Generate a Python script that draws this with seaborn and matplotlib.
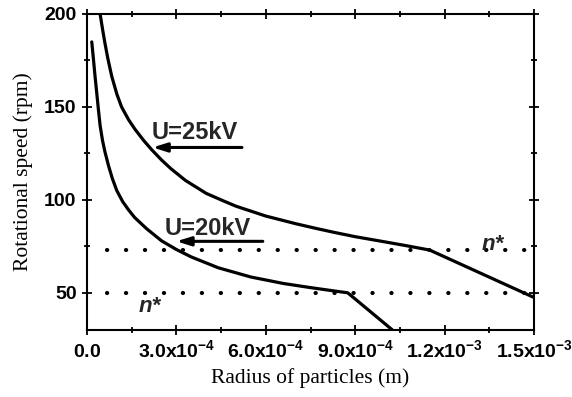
import matplotlib
matplotlib.use('Agg')
import matplotlib.pyplot as plt
import seaborn as sns
import pandas as pd
from matplotlib.ticker import FixedLocator

# ---- data (radius in units of 1e-4 m, speed in rpm) ----
r25 = [0.44, 0.52, 0.60, 0.70, 0.83, 1.0, 1.16, 1.4, 1.61, 1.9, 2.17, 2.5, 2.8, 3.3, 4.0, 4.6,
       5.0, 6.0, 7.0, 7.7, 8.3, 9.0, 10.0, 10.7, 11.5, 15.0]
n25 = [200, 192, 184.5, 176, 166.5, 157, 150, 143, 138, 132, 127, 121.5, 117, 110.5, 103.5, 99.3,
       96.6, 91.3, 87.2, 84.6, 82.5, 80.2, 77.4, 75.4, 73.0, 47.5]
r20 = [0.16, 0.22, 0.27, 0.33, 0.38, 0.44, 0.52, 0.60, 0.72, 0.85, 1.0, 1.2, 1.4, 1.6, 2.0, 2.5,
       3.0, 3.5, 4.4, 5.5, 6.6, 7.5, 8.3, 8.75, 10.25]
n20 = [185, 175, 166.5, 157, 149, 140, 132, 126, 118.5, 111.5, 105, 99, 94.5, 90.5, 84.5, 78,
       73.3, 69.3, 63.5, 58.5, 55, 52.8, 51.0, 50.0, 30]
nstar = [73, 50]
xtick_vals = [0, 3e-4, 6e-4, 9e-4, 1.2e-3, 1.5e-3]
xtick_labels = ['$0.0$', '$3.0x10^{-4}$', '$6.0x10^{-4}$', '$9.0x10^{-4}$', '$1.2x10^{-3}$', '$1.5x10^{-3}$']
ytick_vals = [50, 100, 150, 200]

df25 = pd.DataFrame({'r': [v * 1e-4 for v in r25], 'n': n25})
df20 = pd.DataFrame({'r': [v * 1e-4 for v in r20], 'n': n20})

sns.set_theme(style='ticks')
plt.rcParams['font.family'] = ['Liberation Sans', 'DejaVu Sans']
plt.rcParams['mathtext.fontset'] = 'custom'
plt.rcParams['mathtext.rm'] = 'Liberation Sans:bold'
plt.rcParams['mathtext.bf'] = 'Liberation Sans:bold'
plt.rcParams['mathtext.it'] = 'Liberation Sans:bold'
plt.rcParams['mathtext.default'] = 'rm'

fig = plt.figure(figsize=(5.72, 3.97), dpi=100)
ax = fig.add_axes([87/572, 1-330/397, (534-87)/572, (330-14)/397])

sns.lineplot(data=df25, x='r', y='n', sort=False, estimator=None, color='black', lw=2.3, ax=ax)
sns.lineplot(data=df20, x='r', y='n', sort=False, estimator=None, color='black', lw=2.3, ax=ax)

for yv in nstar:
    ax.plot([0.66e-4, 1.5e-3], [yv, yv], color='black', lw=3.0,
            linestyle=(0, (0.05, 4.5)), dash_capstyle='round', zorder=1)

ax.set_xlim(0, 1.5e-3)
ax.set_ylim(30, 200)

ax.xaxis.set_major_locator(FixedLocator(xtick_vals))
ax.set_xticklabels(xtick_labels)
ax.xaxis.set_minor_locator(FixedLocator([1.5e-4 + 3e-4 * i for i in range(5)]))
ax.yaxis.set_major_locator(FixedLocator(ytick_vals))
ax.yaxis.set_minor_locator(FixedLocator([75, 125, 175]))

for lab in ax.get_xticklabels() + ax.get_yticklabels():
    lab.set_fontweight('bold')
    lab.set_fontsize(14)
    lab.set_color('black')
for lab in ax.get_xticklabels():
    lab.set_verticalalignment('baseline')

ax.tick_params(which='both', direction='inout', top=True, right=True, width=1.3, color='black', pad=4)
ax.tick_params(which='major', length=7)
ax.tick_params(which='minor', length=5)
ax.tick_params(axis='x', which='major', pad=16)
for s in ax.spines.values():
    s.set_linewidth(1.5)
    s.set_color('black')

ax.set_xlabel('Radius of particles (m)', family='Liberation Serif', fontsize=15.5, color='black', labelpad=5)
ax.set_ylabel('Rotational speed (rpm)', family='Liberation Serif', fontsize=15.5, color='black', labelpad=8)

arrow = dict(arrowstyle='-|>,head_length=0.7,head_width=0.22', color='black', lw=2.2, shrinkA=0, shrinkB=0)
ax.text(3.62e-4, 136, 'U=25kV', fontsize=17, fontweight='bold', ha='center', va='center')
ax.annotate('', xy=(2.2e-4, 128.2), xytext=(5.2e-4, 128.2), arrowprops=arrow)
ax.text(4.05e-4, 84.8, 'U=20kV', fontsize=17, fontweight='bold', ha='center', va='center')
ax.annotate('', xy=(3.0e-4, 77.7), xytext=(5.9e-4, 77.7), arrowprops=arrow)

ax.text(2.1e-4, 42.5, 'n*', fontsize=16, fontweight='bold', style='italic', ha='center', va='center')
ax.text(13.6e-4, 76, 'n*', fontsize=16, fontweight='bold', style='italic', ha='center', va='center')

fig.savefig('out.png', dpi=100)
